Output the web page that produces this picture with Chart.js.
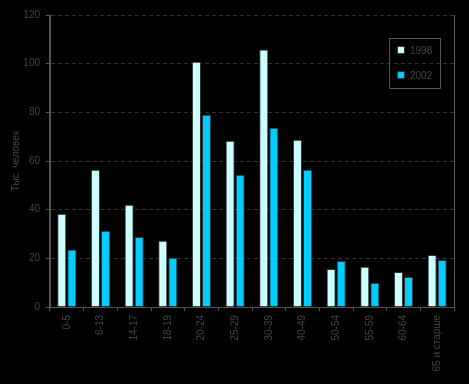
<!DOCTYPE html>
<html lang="ru">
<head>
    <meta charset="UTF-8">
    <title>Тыс. человек</title>
    <script src="https://cdn.jsdelivr.net/npm/chart.js"></script>
    <style>
        html, body {
            margin: 0;
            padding: 0;
            background: #000;
        }
        #wrap {
            width: 469px;
            height: 384px;
        }
    </style>
</head>
<body>
    <div id="wrap"><canvas id="ageChart"></canvas></div>

    <script>
        // age groups and values (thousands of people)
        const ageGroups = ['0-5', '6-13', '14-17', '18-19', '20-24', '25-29', '30-39', '40-49', '50-54', '55-59', '60-64', '65 и старше'];
        const values1998 = [38.3, 56.4, 42.0, 27.2, 100.8, 68.3, 105.8, 68.7, 15.6, 16.5, 14.4, 21.4];
        const values2002 = [23.6, 31.3, 28.8, 20.2, 79.0, 54.3, 73.7, 56.4, 18.9, 9.9, 12.3, 19.3];
        const seriesNames = ['1998', '2002'];
        const yTicks = [0, 20, 40, 60, 80, 100, 120];

        const textColor = '#444';
        const lineColor = '#555';

        // legend box inside the plot + right border of plot area
        const boxLegend = {
            id: 'boxLegend',
            afterDraw(chart) {
                const ctx = chart.ctx;
                const area = chart.chartArea;
                ctx.save();
                ctx.setLineDash([]);
                ctx.strokeStyle = lineColor;
                ctx.lineWidth = 1;
                ctx.beginPath();
                ctx.moveTo(Math.round(area.right) + 0.5, area.top);
                ctx.lineTo(Math.round(area.right) + 0.5, area.bottom);
                ctx.moveTo(Math.round(area.left) - 0.5, area.top);
                ctx.lineTo(Math.round(area.left) - 0.5, area.bottom);
                ctx.stroke();

                ctx.strokeRect(389.5, 38.5, 51, 50);
                ctx.font = '10px "Liberation Sans", Arial, sans-serif';
                ctx.textBaseline = 'middle';
                chart.data.datasets.forEach((ds, i) => {
                    const y = 50 + i * 25;
                    ctx.fillStyle = ds.backgroundColor;
                    ctx.fillRect(398, y - 3, 6, 6);
                    ctx.strokeStyle = '#333';
                    ctx.strokeRect(397.5, y - 3.5, 7, 7);
                    ctx.fillStyle = textColor;
                    ctx.fillText(ds.label, 410, y + 1);
                });
                ctx.restore();
            }
        };

        new Chart(document.getElementById('ageChart'), {
            type: 'bar',
            data: {
                labels: ageGroups,
                datasets: [{
                    label: seriesNames[0],
                    data: values1998,
                    backgroundColor: '#CCFFFF',
                    borderColor: '#333',
                    borderWidth: 1,
                    categoryPercentage: 0.6,
                    barPercentage: 0.9
                }, {
                    label: seriesNames[1],
                    data: values2002,
                    backgroundColor: '#00CCFF',
                    borderColor: '#333',
                    borderWidth: 1,
                    categoryPercentage: 0.6,
                    barPercentage: 0.9
                }]
            },
            options: {
                responsive: true,
                maintainAspectRatio: false,
                animation: false,
                layout: {
                    padding: { top: 15, right: 15, left: 0, bottom: 0 }
                },
                plugins: {
                    legend: { display: false },
                    tooltip: { enabled: false }
                },
                scales: {
                    x: {
                        grid: {
                            display: true,
                            drawOnChartArea: false,
                            drawTicks: true,
                            offset: true,
                            tickLength: 4,
                            color: lineColor
                        },
                        border: { color: lineColor },
                        ticks: {
                            color: textColor,
                            minRotation: 90,
                            maxRotation: 90,
                            autoSkip: false,
                            padding: 4,
                            font: { family: '"Liberation Sans", Arial, sans-serif', size: 10 }
                        },
                        afterFit(scale) { scale.height = 77; }
                    },
                    y: {
                        min: 0,
                        max: 120,
                        afterBuildTicks(scale) {
                            scale.ticks = yTicks.map(v => ({ value: v }));
                        },
                        grid: {
                            color: '#333',
                            tickLength: 4,
                            tickColor: lineColor,
                            tickBorderDash: []
                        },
                        border: { color: lineColor, dash: [4, 3] },
                        ticks: {
                            color: textColor,
                            padding: 6,
                            font: { family: '"Liberation Sans", Arial, sans-serif', size: 10 }
                        },
                        title: {
                            display: true,
                            text: 'Тыс. человек',
                            color: textColor,
                            padding: { top: 10, bottom: 0 },
                            font: { family: '"Liberation Sans", Arial, sans-serif', size: 10 }
                        },
                        afterFit(scale) { scale.width = 50; }
                    }
                }
            },
            plugins: [boxLegend]
        });
    </script>
</body>
</html>
